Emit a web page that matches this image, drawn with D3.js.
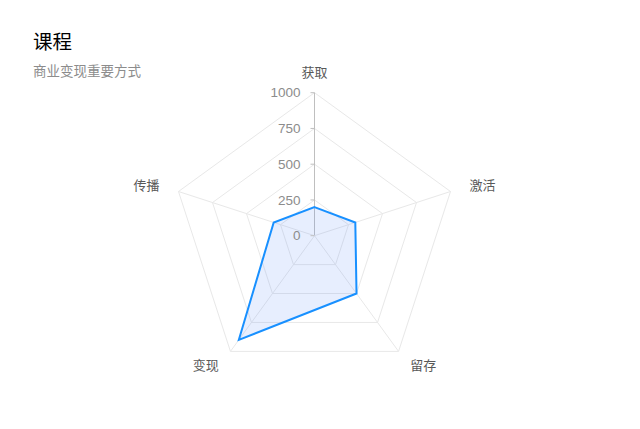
<!DOCTYPE html>
<html><head><meta charset="utf-8">
<script src="https://cdn.jsdelivr.net/npm/d3@7"></script>
<style>body{margin:0;background:#fff;font-family:"Noto Sans CJK SC","Noto Sans",sans-serif;}</style>
</head><body>
<svg id="c" width="640" height="429"></svg>
<script>
const title = "课程";
const subtitle = "商业变现重要方式";
const categories = ["获取", "激活", "留存", "变现", "传播"];
const values = [200, 300, 500, 900, 300];
const tickValues = [0, 250, 500, 750, 1000];

const svg = d3.select("#c");
const cx = 314.5, cy = 235.7, R = 143;
const r = d3.scaleLinear().domain([0, 1000]).range([0, R]);
const ang = d3.scalePoint().domain(categories.concat(["_"])).range([0, 2 * Math.PI]);
const pt = (c, v) => { const a = ang(c); return [cx + r(v) * Math.sin(a), cy - r(v) * Math.cos(a)]; };

svg.append("text").attr("x", 33).attr("y", 49).text(title)
  .attr("font-size", 19.5).attr("fill", "#000");
svg.append("text").attr("x", 33).attr("y", 75.5).text(subtitle)
  .attr("font-size", 13.5).attr("fill", "#8c8c8c");

const g = svg.append("g");
tickValues.filter(t => t > 0).forEach(t => {
  g.append("path").attr("d", d3.line()(categories.map(c => pt(c, t))) + "Z")
    .attr("fill", "none").attr("stroke", "#e8e8e8").attr("stroke-width", 1);
});
categories.forEach((c, i) => {
  const [x, y] = pt(c, 1000);
  g.append("line").attr("x1", cx).attr("y1", cy).attr("x2", x).attr("y2", y)
    .attr("stroke", i === 0 ? "#bfbfbf" : "#e8e8e8").attr("stroke-width", 1);
});

const poly = categories.map((c, i) => pt(c, values[i]));
g.append("path").attr("d", d3.line()(poly) + "Z")
  .attr("fill", "rgb(91,143,249)").attr("fill-opacity", 0.15)
  .attr("stroke", "#1890ff").attr("stroke-width", 2).attr("stroke-linejoin", "miter");

tickValues.forEach(t => {
  const y = cy - r(t);
  g.append("line").attr("x1", cx - 4).attr("x2", cx).attr("y1", y).attr("y2", y)
    .attr("stroke", "#bfbfbf");
  g.append("text").attr("x", cx - 14).attr("y", y).attr("dy", "0.35em")
    .attr("text-anchor", "end").attr("font-size", 13.5).attr("fill", "#8c8c8c")
    .attr("font-family", "'Liberation Sans', Arial, sans-serif").text(t);
});

categories.forEach(c => {
  const a = ang(c);
  const rr = R + 20;
  const x = cx + rr * Math.sin(a), y = cy - rr * Math.cos(a);
  const s = Math.sin(a);
  const anchor = Math.abs(s) < 0.01 ? "middle" : (s > 0 ? "start" : "end");
  let yy = y;
  if (Math.cos(a) < -0.5) yy = y - 2;
  g.append("text").attr("x", x).attr("y", yy).attr("dy", "0.35em")
    .attr("text-anchor", anchor).attr("font-size", 13).attr("fill", "#595959").text(c);
});
</script>
</body></html>
